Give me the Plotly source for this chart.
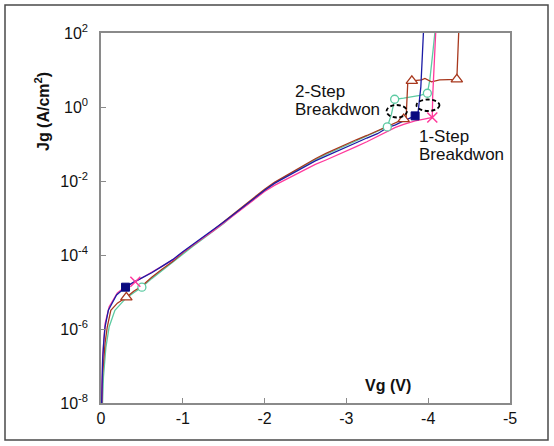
import plotly.graph_objects as go

# ---- data (Vg in volts, Jg in A/cm^2) ----
blue_v = [-0.003, -0.01, -0.02, -0.035, -0.05, -0.09, -0.19, -0.30, -0.40, -0.50, -0.62, -0.75, -0.88,
          -1.00, -1.12, -1.25, -1.38, -1.50, -1.62, -1.75, -1.88, -2.00, -2.12, -2.25, -2.38, -2.50,
          -2.62, -2.75, -2.88, -3.00, -3.12, -3.25, -3.38, -3.50, -3.60, -3.70, -3.84, -3.875,
          -3.89, -3.91, -3.93, -3.95]
blue_j = [3e-9, 2.5e-8, 1.45e-7, 5e-7, 1.15e-6, 3.2e-6, 8.3e-6, 1.35e-5, 1.85e-5, 2.4e-5, 3.3e-5,
          5.0e-5, 7.6e-5, 1.23e-4, 1.9e-4, 3.1e-4, 4.9e-4, 7.8e-4, 1.25e-3, 2.1e-3, 3.5e-3, 5.6e-3,
          8.6e-3, 1.25e-2, 1.8e-2, 2.55e-2, 3.5e-2, 4.7e-2, 6.4e-2, 8.3e-2, 1.08e-1, 1.45e-1,
          1.9e-1, 2.75e-1, 3.3e-1, 4.2e-1, 5.75e-1, 6.6e-1, 1.4, 3.5, 29, 250]
blue_mk = [7, 36]

pink_v = [-0.003, -0.01, -0.02, -0.05, -0.10, -0.20, -0.30, -0.42, -0.60, -0.75, -0.88, -1.00, -1.12,
          -1.25, -1.38, -1.50, -1.62, -1.75, -1.88, -2.00, -2.12, -2.25, -2.38, -2.50, -2.62, -2.75,
          -2.88, -3.00, -3.12, -3.25, -3.38, -3.50, -3.60, -3.70, -3.84, -3.95, -4.05, -4.055,
          -4.065, -4.075, -4.10]
pink_j = [3e-9, 3.2e-8, 1.8e-7, 1.4e-6, 4.0e-6, 9.5e-6, 1.4e-5, 1.9e-5, 3.3e-5, 5.0e-5, 7.4e-5,
          1.18e-4, 1.85e-4, 2.95e-4, 4.6e-4, 7.3e-4, 1.15e-3, 1.95e-3, 3.2e-3, 5.2e-3, 7.6e-3,
          1.08e-2, 1.5e-2, 2.1e-2, 2.8e-2, 3.7e-2, 4.9e-2, 6.5e-2, 8.5e-2, 1.15e-1, 1.58e-1,
          2.2e-1, 2.8e-1, 3.4e-1, 4.2e-1, 4.7e-1, 5.2e-1, 2.0, 8.0, 29, 250]
pink_mk = [7, 36]

teal_v = [-0.01, -0.03, -0.06, -0.10, -0.17, -0.30, -0.40, -0.50, -0.62, -0.75, -0.88, -1.00, -1.12,
          -1.25, -1.38, -1.50, -1.62, -1.75, -1.88, -2.00, -2.12, -2.25, -2.38, -2.50, -2.62, -2.75,
          -2.88, -3.00, -3.12, -3.25, -3.38, -3.50, -3.55, -3.59, -3.70, -3.78, -3.90, -3.99,
          -4.02, -4.06, -4.10]
teal_j = [3e-9, 5e-8, 3.2e-7, 1.15e-6, 3.2e-6, 6.6e-6, 9.5e-6, 1.35e-5, 2.3e-5, 3.8e-5, 6.3e-5,
          1.05e-4, 1.7e-4, 2.75e-4, 4.4e-4, 7.1e-4, 1.2e-3, 2.0e-3, 3.4e-3, 5.6e-3, 8.7e-3,
          1.3e-2, 1.9e-2, 2.7e-2, 3.8e-2, 5.2e-2, 7.0e-2, 9.3e-2, 1.23e-1, 1.64e-1, 2.2e-1,
          2.9e-1, 6.3e-1, 1.62, 1.74, 1.86, 2.05, 2.35, 5.4, 35, 250]
teal_mk = [7, 31, 33, 37]

brown_v = [-0.003, -0.02, -0.05, -0.077, -0.12, -0.20, -0.31, -0.40, -0.50, -0.62, -0.75, -0.88,
           -1.00, -1.12, -1.25, -1.38, -1.50, -1.62, -1.75, -1.88, -2.00, -2.12, -2.25, -2.38,
           -2.50, -2.62, -2.75, -2.88, -3.00, -3.12, -3.25, -3.38, -3.50, -3.60, -3.70, -3.73,
           -3.75, -3.80, -3.92, -3.96, -4.04, -4.14, -4.35, -4.36, -4.37, -4.38]
brown_j = [3e-9, 6.3e-8, 4.2e-7, 1.15e-6, 3.2e-6, 5.0e-6, 7.2e-6, 1.05e-5, 1.45e-5, 2.5e-5,
           4.2e-5, 6.8e-5, 1.15e-4, 1.8e-4, 2.95e-4, 4.8e-4, 7.9e-4, 1.3e-3, 2.2e-3, 3.7e-3,
           6.0e-3, 9.2e-3, 1.35e-2, 2.0e-2, 2.9e-2, 4.0e-2, 5.6e-2, 7.6e-2, 1.0e-1, 1.3e-1,
           1.7e-1, 2.3e-1, 3.0e-1, 3.8e-1, 4.7e-1, 5.0e-1, 4.5, 5.1, 5.4, 5.9, 4.8, 5.4, 5.6,
           18.6, 48, 250]
brown_mk = [6, 34, 37, 42]

x_ticks = [0, -1, -2, -3, -4, -5]
x_ticktext = ["0", "-1", "-2", "-3", "-4", "-5"]
y_ticks = [1e-8, 1e-6, 1e-4, 1e-2, 1e0, 1e2]
y_ticktext = ["10<sup>-8</sup>", "10<sup>-6</sup>", "10<sup>-4</sup>", "10<sup>-2</sup>",
              "10<sup>0</sup>", "10<sup>2</sup>"]

FONT = "Liberation Sans, Arial, sans-serif"

series = [
    (teal_v, teal_j, teal_mk, "#5ccaa2", dict(symbol="circle", size=8, color="white",
                                             line=dict(color="#5ccaa2", width=1.3))),
    (brown_v, brown_j, brown_mk, "#a8381e", dict(symbol="triangle-up", size=10, color="white",
                                                line=dict(color="#a8381e", width=1.3))),
    (pink_v, pink_j, pink_mk, "#ff3a9c", dict(symbol="x-thin", size=10,
                                             line=dict(color="#ff3a9c", width=1.5))),
    (blue_v, blue_j, blue_mk, "#1c1ca6", dict(symbol="square", size=8, color="#0a0a80",
                                             line=dict(color="#0a0a80", width=1))),
]

fig = go.Figure()
for v, j, mk, col, mdict in series:
    fig.add_trace(go.Scatter(x=v, y=j, mode="lines", line=dict(color=col, width=1.3),
                             showlegend=False, hoverinfo="skip"))
for v, j, mk, col, mdict in series:
    fig.add_trace(go.Scatter(x=[v[i] for i in mk], y=[j[i] for i in mk], mode="markers",
                             marker=mdict, showlegend=False, hoverinfo="skip", cliponaxis=False))

axis_common = dict(showline=True, linecolor="#8a8a8a", linewidth=1.5, mirror=True,
                   ticks="inside", ticklen=5, tickcolor="#8a8a8a", tickwidth=1.2,
                   showgrid=False, zeroline=False,
                   tickfont=dict(family=FONT, size=16, color="#111111"))

fig.update_layout(
    width=554, height=446,
    margin=dict(l=101, r=44, t=33, b=43),
    paper_bgcolor="white", plot_bgcolor="white",
    font=dict(family=FONT, size=16, color="#111111"),
    xaxis=dict(range=[0, -5], tickvals=x_ticks, ticktext=x_ticktext,
               ticklabelstandoff=0, **axis_common),
    yaxis=dict(type="log", range=[-8, 2], tickvals=y_ticks, ticktext=y_ticktext,
               ticklabelstandoff=8, **axis_common),
)

def pxx(p):
    return (p - 101) / 409.0

def pxy(p):
    return (403 - p) / 370.0

ann = [
    dict(text="<b>Jg (A/cm<sup>2</sup>)</b>", x=pxx(42), y=pxy(112), textangle=-90, size=16),
    dict(text="<b>Vg (V)</b>", x=pxx(388), y=pxy(385), size=16),
]
for a in ann:
    fig.add_annotation(text=a["text"], x=a["x"], y=a["y"], xref="paper", yref="paper",
                       showarrow=False, textangle=a.get("textangle", 0),
                       xanchor="center", yanchor="middle",
                       font=dict(family=FONT, size=a["size"], color="#111111"))

sp = '<span style="font-size:17px">{}</span>'
labels = [(("2-Step", "Breakdwon"), 293, 100.5), (("1-Step", "Breakdwon"), 417, 145)]
for (l1, l2), lx, ly in labels:
    fig.add_annotation(text=sp.format(l1) + "<br>" + sp.format(l2), x=pxx(lx), y=pxy(ly),
                       xref="paper", yref="paper", showarrow=False,
                       xanchor="left", yanchor="middle", align="left",
                       font=dict(family=FONT, size=14, color="#111111"))

# dashed ellipses marking breakdown regions
fig.add_shape(type="circle", xref="paper", yref="paper",
              x0=pxx(386.5), x1=pxx(407), y0=pxy(117.5), y1=pxy(105),
              line=dict(color="black", width=1.8, dash="4px,2.5px"))
fig.add_shape(type="circle", xref="paper", yref="paper",
              x0=pxx(416.5), x1=pxx(439.5), y0=pxy(111), y1=pxy(99.5),
              line=dict(color="black", width=1.8, dash="4px,2.5px"))

# outer frame
fig.add_shape(type="rect", xref="paper", yref="paper",
              x0=pxx(5), x1=pxx(548), y0=pxy(440), y1=pxy(5),
              line=dict(color="#4a4a4a", width=1.5))

fig.write_html("out.html", config={"displayModeBar": False},
               post_script="document.body.style.margin='0px';")
